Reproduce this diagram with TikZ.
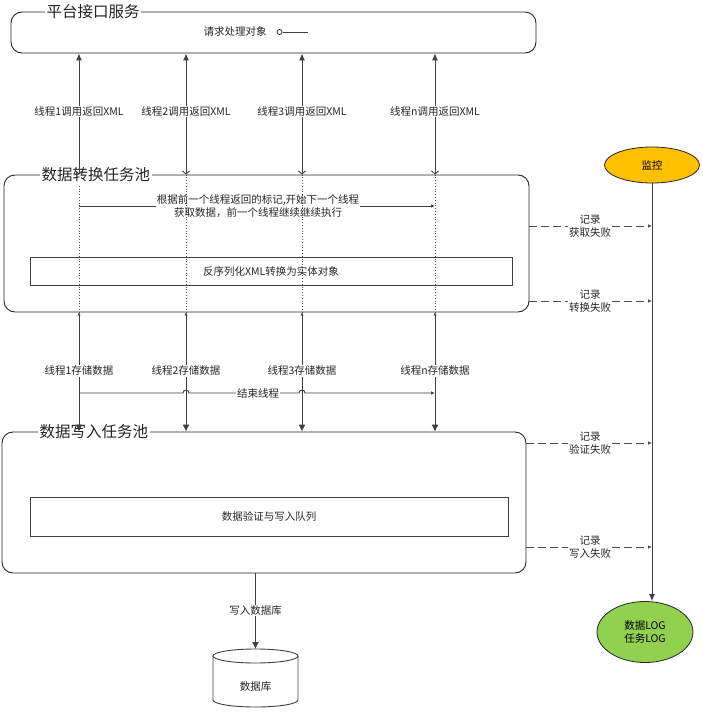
\documentclass[tikz,border=0pt]{standalone}
\usepackage{fontspec}
\setmainfont{Noto Sans CJK SC}
\usetikzlibrary{arrows.meta,calc,positioning,shapes.geometric}
\definecolor{jkorange}{HTML}{FFC000}
\definecolor{loggreen}{HTML}{92D050}
\def\lblfont{\fontsize{10.5}{13.5}\selectfont}
\tikzset{
  pool/.style={draw=black!85, line width=0.9pt, rounded corners=11pt},
  inbox/.style={draw=black!75, line width=0.9pt, font=\lblfont, text=black!85},
  title/.style={fill=white, inner sep=1.5pt, font=\fontsize{15.5}{18}\selectfont, text=black!85},
  lbl/.style={font=\lblfont, text=black!85, fill=white, inner sep=1pt, align=center},
  conn/.style={draw=black!75, line width=0.9pt},
  dotline/.style={draw=black!70, line width=0.8pt, dotted},
  dasharr/.style={draw=black!70, line width=1pt, dash pattern=on 8pt off 4pt},
  smalltip/.style={-{Latex[length=4pt,width=3.5pt]}}
}

\begin{document}
\begin{tikzpicture}[x=1pt,y=-1pt]
\useasboundingbox (0,0) rectangle (702,717);
%%%%% START %%%%%
\coordinate (c1) at (79,0);
\coordinate (c2) at (186,0);
\coordinate (c3) at (302,0);
\coordinate (cn) at (435,0);

% 平台接口服务
\node[pool, minimum width=525pt, minimum height=41pt] (api) at (273.5,32.5) {};
\node[title, anchor=west] (apiT) at (45,12) {平台接口服务};
\node[lbl] (req) at (235,32) {请求处理对象};
\node[circle, draw=black!80, line width=0.8pt, inner sep=0pt, minimum size=5pt, right=9pt of req] (port) {};
\draw[conn] (port.east) -- ++(25pt,0);

% 数据转换任务池
\node[pool, minimum width=525pt, minimum height=137pt] (conv) at (266.5,243.5) {};
\foreach \c in {c1,c2,c3,cn}
  \draw[dotline] (\c |- conv.north) -- (\c |- conv.south);
\node[title, anchor=west] (convT) at (40,175) {数据转换任务池};
\node[inbox, minimum width=482pt, minimum height=28pt] (deser) at (271,271) {反序列化XML转换为实体对象};
\node[lbl, fill=none] (note) at (258,206) {根据前一个线程返回的标记,开始下一个线程\\获取数据，前一个线程继续继续执行};
\draw[conn] (c1 |- note.west) -- (note.west);
\draw[conn, smalltip] (note.east) -- (cn |- note.east);

% 数据写入任务池
\node[pool, minimum width=524pt, minimum height=141pt] (write) at (264,502.5) {};
\node[title, anchor=west] (writeT) at (38,432) {数据写入任务池};
\node[inbox, minimum width=478pt, minimum height=39pt] (queue) at (269,516.5) {数据验证与写入队列};

% 线程
\foreach \c/\t in {c1/1, c2/2, c3/3, cn/n}
  \draw[conn, {Latex[length=7pt,width=6pt]}-{Straight Barb[length=3pt,width=7pt]}]
    (\c |- api.south) -- node[lbl, pos=0.48] {线程\t 调用返回XML} (\c |- conv.north);
\foreach \c/\t in {c1/1, c2/2, c3/3, cn/n}
  \draw[conn, {Latex[length=3pt,width=3.5pt]}-{Latex[length=7pt,width=7pt]}]
    (\c |- conv.south) -- node[lbl, pos=0.49] {线程\t 存储数据} (\c |- write.north);

% 结束线程
\coordinate (e0) at (79,393);
\draw[conn, smalltip] (c1 |- e0) -- ($(c2 |- e0)+(-3pt,0)$)
  arc[start angle=180, end angle=0, radius=3pt] -- ($(c3 |- e0)+(-3pt,0)$)
  arc[start angle=180, end angle=0, radius=3pt] -- (cn |- e0);
\node[lbl] (endT) at (258,393) {结束线程};

% 监控
\node[ellipse, draw=black!85, line width=0.8pt, fill=jkorange, minimum width=95pt, minimum height=36pt, font=\lblfont] (jk) at (652,165) {监控};
\node[ellipse, draw=black!85, line width=0.8pt, fill=loggreen, minimum width=96pt, minimum height=61pt, font=\lblfont, align=center] (log) at (645,632) {数据LOG\\任务LOG};
\draw[conn, -{Latex[length=7pt,width=6pt]}] (jk.south) -- (jk.south |- log.north);

\node[lbl] (r1) at (590,226) {记录\\获取失败};
\node[lbl] (r2) at (590,301) {记录\\转换失败};
\node[lbl] (r3) at (590,443) {记录\\验证失败};
\node[lbl] (r4) at (590,547) {记录\\写入失败};
\foreach \r/\b in {r1/conv, r2/conv, r3/write, r4/write} {
  \draw[dasharr] (\b.east |- \r) -- (\r.west);
  \draw[dasharr, smalltip] (\r.east) -- (jk.south |- \r);
}

% 数据库
\coordinate (dbtop) at (255.5,649);
\draw[conn, fill=white] (213,656) -- (213,700)
  arc[start angle=180, end angle=360, x radius=42.5pt, y radius=7pt] -- (298,656);
\draw[conn] (255.5,656) ellipse [x radius=42.5pt, y radius=7pt];
\node[lbl, fill=none] (db) at (255.5,687) {数据库};
\draw[conn, -{Latex[length=7pt,width=7pt]}] (dbtop |- write.south) -- node[lbl, pos=0.49] {写入数据库} (dbtop);
%%%%% END %%%%%
\end{tikzpicture}
\end{document}
